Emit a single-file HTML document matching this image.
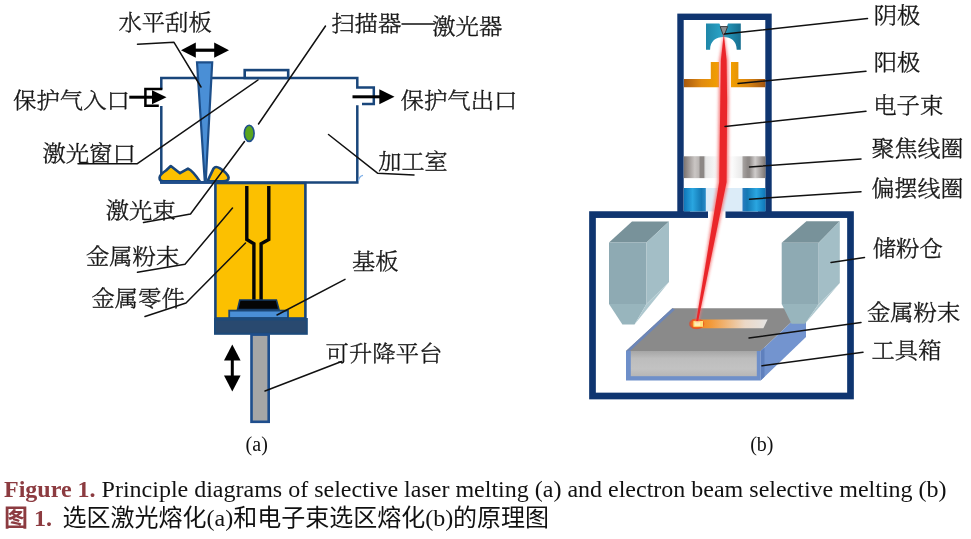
<!DOCTYPE html>
<html lang="zh">
<head>
<meta charset="utf-8">
<title>Figure 1</title>
<style>
html,body{margin:0;padding:0;background:#fff;}
body{width:971px;height:539px;overflow:hidden;position:relative;-webkit-font-smoothing:antialiased;}
#wrap{position:absolute;left:0;top:0;width:971px;height:539px;will-change:transform;transform:translateZ(0);}
svg{display:block;position:absolute;left:0;top:0;}
.lb{font-family:"Liberation Serif","Noto Serif CJK SC",serif;font-size:21.8px;fill:#161616;font-weight:300;stroke:#161616;stroke-width:0.35px;}
.ab{font-family:"Liberation Serif",serif;font-size:20px;fill:#111;}
.ld{stroke:#111;stroke-width:1.5;fill:none;stroke-linecap:round;stroke-linejoin:round;}
.cap{position:absolute;left:4px;margin:0;white-space:nowrap;color:#111;font-family:"Liberation Serif","Noto Sans CJK SC",serif;font-size:24px;line-height:28px;}
.cap b{color:#8c3b40;font-weight:bold;}
</style>
</head>
<body>
<div id="wrap">
<svg width="971" height="539" viewBox="0 0 971 539">
<defs>
<linearGradient id="gCath" x1="0" y1="0" x2="1" y2="0">
<stop offset="0" stop-color="#1f86a8"/><stop offset="0.45" stop-color="#2aa3c6"/><stop offset="1" stop-color="#176f90"/>
</linearGradient>
<linearGradient id="gAnL" x1="0" y1="0" x2="1" y2="0">
<stop offset="0" stop-color="#a85a10"/><stop offset="0.5" stop-color="#e08a10"/><stop offset="1" stop-color="#f2a000"/>
</linearGradient>
<linearGradient id="gAnR" x1="0" y1="0" x2="1" y2="0">
<stop offset="0" stop-color="#f2a000"/><stop offset="0.5" stop-color="#d98410"/><stop offset="1" stop-color="#a05510"/>
</linearGradient>
<linearGradient id="gFocL" x1="0" y1="0" x2="1" y2="0">
<stop offset="0" stop-color="#7b7370"/><stop offset="0.5" stop-color="#cac6c4"/><stop offset="0.68" stop-color="#bab6b4"/><stop offset="0.75" stop-color="#8c8785"/><stop offset="0.9" stop-color="#8c8785"/><stop offset="0.96" stop-color="#cfcfcf"/><stop offset="1" stop-color="#e6e6e6"/>
</linearGradient>
<linearGradient id="gFocR" x1="1" y1="0" x2="0" y2="0">
<stop offset="0" stop-color="#7a7472"/><stop offset="0.45" stop-color="#cfcccb"/><stop offset="0.7" stop-color="#8f8a88"/><stop offset="0.78" stop-color="#8f8a88"/><stop offset="1" stop-color="#a9a5a3"/>
</linearGradient>
<linearGradient id="gDefL" x1="0" y1="0" x2="1" y2="0">
<stop offset="0" stop-color="#0e76b8"/><stop offset="0.4" stop-color="#2aa6e0"/><stop offset="0.8" stop-color="#1478b4"/><stop offset="1" stop-color="#2a8cc8"/>
</linearGradient>
<linearGradient id="gDefR" x1="1" y1="0" x2="0" y2="0">
<stop offset="0" stop-color="#0e76b8"/><stop offset="0.4" stop-color="#2aa6e0"/><stop offset="0.8" stop-color="#1478b4"/><stop offset="1" stop-color="#2a7cc0"/>
</linearGradient>
<linearGradient id="gTrack" x1="0" y1="0" x2="1" y2="0">
<stop offset="0" stop-color="#f07a10"/><stop offset="0.25" stop-color="#f29a3a"/><stop offset="0.7" stop-color="#ecd8c6"/><stop offset="1" stop-color="#e4e4e4"/>
</linearGradient>
<radialGradient id="gSpot" cx="0.5" cy="0.5" r="0.5">
<stop offset="0" stop-color="#ffb040"/><stop offset="0.55" stop-color="#f4701c"/><stop offset="0.8" stop-color="#ea4a20" stop-opacity="0.8"/><stop offset="1" stop-color="#e03020" stop-opacity="0"/>
</radialGradient>
<filter id="blur1" x="-50%" y="-5%" width="200%" height="110%"><feGaussianBlur stdDeviation="1.6"/></filter>
<filter id="blur2" x="-50%" y="-5%" width="200%" height="110%"><feGaussianBlur stdDeviation="0.5"/></filter>
<linearGradient id="gMid" x1="0" y1="0" x2="1" y2="0"><stop offset="0.2" stop-color="#e4e4e4"/><stop offset="0.42" stop-color="#fbfbfb"/><stop offset="0.62" stop-color="#fbfbfb"/><stop offset="0.8" stop-color="#e4e4e4"/></linearGradient>
<linearGradient id="gFront" x1="0" y1="0" x2="0" y2="1"><stop offset="0" stop-color="#a6a6a6"/><stop offset="0.3" stop-color="#bdbdbd"/><stop offset="0.7" stop-color="#c2c2c2"/><stop offset="1" stop-color="#b6b6b6"/></linearGradient>
</defs>
<rect x="0" y="0" width="971" height="539" fill="#ffffff"/>

<!-- ================= (a) SLM ================= -->
<g id="slm">
<!-- chamber outline -->
<path d="M357.3 105.2 V182.6 H161.3 V106 M161.3 89.4 V78 H357.3 V87.4 H373.8 V103.9 H362" fill="#fff" stroke="#19467b" stroke-width="2.5" stroke-linejoin="miter"/>
<!-- laser window -->
<rect x="244.7" y="70.1" width="43.5" height="7.9" fill="#fff" stroke="#19467b" stroke-width="2.6"/>
<!-- powder cylinder -->
<rect x="215.4" y="183" width="90" height="135.5" fill="#fcc000" stroke="#18457a" stroke-width="2.6"/>
<!-- powder piles -->
<path d="M159.6 177.5 C159.6 175 163 172.5 166 170.5 L170.8 166 L180 173.2 L188 168.6 C192 170.5 195 174 199.8 181.4 L163 181.4 C160.5 181.2 159.6 180 159.6 178 Z" fill="#fcc000" stroke="#18457a" stroke-width="2.6" stroke-linejoin="round"/>
<path d="M207.4 181.4 L213.6 168.4 C215 166.4 217.5 166.8 220 168.4 C224 171 228 174.5 228.6 177.5 C228.8 180.2 226.5 181.4 223 181.4 Z" fill="#fcc000" stroke="#18457a" stroke-width="2.6" stroke-linejoin="round"/>
<rect x="160.3" y="181" width="55" height="2.8" fill="#1f4e8c"/>
<!-- blade -->
<path d="M197 62.4 H212.2 L205.8 180.5 H204.7 Z" fill="#4a8fd6" stroke="#1d4f8a" stroke-width="2.2" stroke-linejoin="miter"/>
<!-- part -->
<path d="M246.8 186 V239.5 L253.9 243.8 V300.5 M268.8 186 V239.5 L261.1 243.8 V300.5" fill="none" stroke="#050505" stroke-width="3.4" stroke-linejoin="miter"/>
<!-- trapezoid -->
<path d="M239.8 300 H276.4 L279 309.6 H237.5 Z" fill="#050505" stroke="#153a63" stroke-width="1.6" stroke-linejoin="miter"/>
<!-- substrate -->
<rect x="229.2" y="310.6" width="58.8" height="7.4" fill="#4a8fd6" stroke="#1b4675" stroke-width="1.8"/>
<!-- platform base -->
<rect x="214" y="318" width="93.8" height="16.8" fill="#1c4a7a"/><rect x="216" y="320.5" width="89.8" height="12.3" fill="#29496f"/>
<!-- rod -->
<rect x="251.5" y="334.6" width="17.2" height="87.2" fill="#a6a6a6" stroke="#1f4e8c" stroke-width="2.6"/>
<!-- green scanner ellipse -->
<ellipse cx="249.2" cy="133.3" rx="4.9" ry="8.1" fill="#5aa51e" stroke="#1f4e8c" stroke-width="1.6"/>

<!-- arrows -->
<g fill="#000" stroke="none">
<rect x="190" y="48.6" width="29" height="3.2"/>
<path d="M181 50.2 L195.8 42.6 V57.8 Z"/>
<path d="M229 50.2 L214.2 42.6 V57.8 Z"/>
<rect x="129.3" y="95.7" width="24" height="3"/>
<path d="M166.5 97.2 L152 90.2 V104.2 Z"/>
<rect x="352.5" y="95.3" width="30" height="3"/>
<path d="M394.5 96.8 L379.3 89.3 V104.3 Z"/>
<rect x="230.8" y="356" width="3" height="24"/>
<path d="M232.3 344.5 L224 360.5 H240.6 Z"/>
<path d="M232.3 391.5 L224 375.5 H240.6 Z"/>
</g>
<path d="M162.3 88.9 H145.4 V105.8 H158.8" fill="none" stroke="#000" stroke-width="2.5" stroke-linejoin="miter"/>

<!-- leaders -->
<path class="ld" d="M137.5 44.3 L174 42.3 L201 87"/>
<path class="ld" d="M78 163.8 H137 L258 80"/>
<path class="ld" d="M325.5 26 L258.5 124"/>
<path class="ld" d="M244.5 141.5 L190.5 214 L143.5 222.5"/>
<path class="ld" d="M402 24 H434.5"/>
<path class="ld" d="M328.5 134.5 L377.5 173.2 L414 175"/>
<path class="ld" d="M137.5 272.3 L185 264.3 L232.5 208"/>
<path class="ld" d="M145 316.5 L186 303 L245.5 243"/>
<path class="ld" d="M345 279.3 L277 315"/>
<path class="ld" d="M341.5 361.5 L265 391"/>
<path d="M358.5 181 C358.8 177.5 360.5 175.8 363 175.3" fill="none" stroke="#7fb0e8" stroke-width="1.2"/>

<!-- labels -->
<text class="lb" x="118.4" y="30" textLength="93.4" lengthAdjust="spacingAndGlyphs">水平刮板</text>
<text class="lb" x="331.18" y="31" textLength="70.1" lengthAdjust="spacingAndGlyphs">扫描器</text>
<text class="lb" x="432.18" y="34.2" textLength="70.1" lengthAdjust="spacingAndGlyphs">激光器</text>
<text class="lb" x="13.12" y="107.5" textLength="116.8" lengthAdjust="spacingAndGlyphs">保护气入口</text>
<text class="lb" x="400.62" y="107.5" textLength="116.8" lengthAdjust="spacingAndGlyphs">保护气出口</text>
<text class="lb" x="42.4" y="161" textLength="93.4" lengthAdjust="spacingAndGlyphs">激光窗口</text>
<text class="lb" x="378.2" y="168.5" textLength="69.6" lengthAdjust="spacingAndGlyphs">加工室</text>
<text class="lb" x="105.67" y="218" textLength="70.1" lengthAdjust="spacingAndGlyphs">激光束</text>
<text class="lb" x="85.9" y="263.5" textLength="93.4" lengthAdjust="spacingAndGlyphs">金属粉末</text>
<text class="lb" x="91.4" y="305.5" textLength="93.4" lengthAdjust="spacingAndGlyphs">金属零件</text>
<text class="lb" x="351.95" y="268.5" textLength="46.7" lengthAdjust="spacingAndGlyphs">基板</text>
<text class="lb" x="325.62" y="360.7" textLength="116.8" lengthAdjust="spacingAndGlyphs">可升降平台</text>
<text class="ab" x="245.6" y="450.5">(a)</text>
</g>

<!-- ================= (b) EBM ================= -->
<g id="ebm">
<!-- tower -->
<rect x="680.5" y="16.8" width="88" height="198" fill="#fff" stroke="#0f3570" stroke-width="6.4"/>
<!-- chamber -->
<rect x="592.5" y="214.6" width="258" height="181.4" fill="#fff" stroke="#0f3570" stroke-width="6.7"/>
<!-- opening -->
<rect x="708" y="209" width="17.5" height="10" fill="#fff"/>

<!-- cathode -->
<path d="M706 23.6 H719.4 L721.3 28 H726.3 L728 23.6 H740.8 V49.8 H736.7 C736.7 41 731 37 723.4 37 C716 37 710.1 41 710.1 49.8 H706 Z" fill="url(#gCath)"/>
<path d="M720.2 26.6 H727.6 L724.6 34.6 H723 Z" fill="#8d8f92" stroke="#3c3c3e" stroke-width="1"/>
<!-- anode -->
<path d="M684 79 H710.8 V62 H719 V87.3 H684 Z" fill="url(#gAnL)"/>
<path d="M731 62 H738.4 V79 H765.3 V87.3 H731 Z" fill="url(#gAnR)"/>
<!-- focus coils -->
<rect x="690" y="156.3" width="68" height="21.8" fill="url(#gMid)"/>
<rect x="683.8" y="156.3" width="22" height="21.8" fill="url(#gFocL)"/>
<rect x="742.5" y="156.3" width="23" height="21.8" fill="url(#gFocR)"/>
<!-- deflection coils -->
<rect x="690" y="188" width="68" height="23.4" fill="#dcecf8"/>
<rect x="683.8" y="188" width="22" height="23.4" fill="url(#gDefL)"/>
<rect x="742.5" y="188" width="23" height="23.4" fill="url(#gDefR)"/>

<!-- hoppers -->
<g id="hopL">
<path d="M609 242.4 L632 221.4 H669 L646.5 242.4 Z" fill="#78929a"/>
<path d="M609 242.4 H646.5 V304 H609 Z" fill="#8eaab3"/>
<path d="M646.5 242.4 L669 221.4 V282 L646.5 304 Z" fill="#a3bec6"/>
<path d="M609 304 H646.5 L634.5 324.5 H622.4 Z" fill="#98b5bd"/>
<path d="M646.5 304 L669 282 L634.5 324.5 Z" fill="#aec8cf"/>
</g>
<!-- tool box -->
<g id="box">
<path d="M626 351 L672.3 308.2 H806 L760.6 351 Z" fill="#8a8a8a"/>
<path d="M626 351 L672.3 308.2 L675 309.5 L630 351 Z" fill="#6c86b8"/>
<path d="M760.6 351 L806 308.2 V337 L760.6 380.5 Z" fill="#7394cf"/>
<path d="M760.6 351 L764.5 347.5 V376.8 L760.6 380.5 Z" fill="#5f80bd"/>
<rect x="626" y="351" width="134.6" height="29.5" fill="#6e8fc9"/>
<rect x="630.8" y="351" width="126" height="25.2" fill="url(#gFront)"/>
<!-- melt track -->
<path d="M692 319.6 H767.6 L763.4 328.3 H692 Z" fill="url(#gTrack)"/>
<ellipse cx="696.6" cy="323.9" rx="8.2" ry="5.8" fill="url(#gSpot)"/>
<rect x="693.4" y="321" width="9.6" height="5.8" fill="#ffe27a"/>
<rect x="694.6" y="322" width="5.6" height="3.8" fill="#fff3b8"/>
</g>
<g id="hopR">
<path d="M781.7 242.7 L806.4 221.2 H839.8 L818.7 242.7 Z" fill="#78929a"/>
<path d="M781.7 242.7 H818.7 V304 H781.7 Z" fill="#8eaab3"/>
<path d="M818.7 242.7 L839.8 221.2 V283 L818.7 304 Z" fill="#a3bec6"/>
<path d="M781.7 304 H818.7 L805 323.8 H791.5 Z" fill="#98b5bd"/>
<path d="M818.7 304 L839.8 283 L805 323.8 Z" fill="#aec8cf"/>
</g>

<!-- beam -->
<g>
<path d="M723.8 33 L719.2 60 L718.6 100 L717.4 182 L695.8 322 L698.6 322 L728.3 182 L729 100 L728.2 60 Z" fill="#f57878" opacity="0.9" filter="url(#blur1)"/>
<path d="M723.8 33.5 L720.9 60 L720.3 100 L719.2 182 L696.2 321 L698.2 321 L726.6 182 L727.1 100 L726.6 60 Z" fill="#ea262c" filter="url(#blur2)"/>
</g>

<!-- leaders -->
<path class="ld" d="M867.5 18.6 L724.5 34"/>
<path class="ld" d="M866 71.2 L738 83.5"/>
<path class="ld" d="M866 111.3 L725 126.5"/>
<path class="ld" d="M861 159 L749.5 167"/>
<path class="ld" d="M861 191.7 L749.5 199.2"/>
<path class="ld" d="M864.5 257.5 L831 262.5"/>
<path class="ld" d="M861 322.5 L749 338"/>
<path class="ld" d="M863 352.2 L762 365.8"/>

<!-- labels -->
<text class="lb" x="873.75" y="22.5" textLength="46.7" lengthAdjust="spacingAndGlyphs">阴极</text>
<text class="lb" x="873.75" y="69.7" textLength="46.7" lengthAdjust="spacingAndGlyphs">阳极</text>
<text class="lb" x="873.17" y="112.7" textLength="70.1" lengthAdjust="spacingAndGlyphs">电子束</text>
<text class="lb" x="871.6" y="156.2" textLength="91.8" lengthAdjust="spacingAndGlyphs">聚焦线圈</text>
<text class="lb" x="871.6" y="196.2" textLength="91.8" lengthAdjust="spacingAndGlyphs">偏摆线圈</text>
<text class="lb" x="872.67" y="255.5" textLength="70.1" lengthAdjust="spacingAndGlyphs">储粉仓</text>
<text class="lb" x="866.9" y="319.5" textLength="93.4" lengthAdjust="spacingAndGlyphs">金属粉末</text>
<text class="lb" x="871.47" y="357.7" textLength="70.1" lengthAdjust="spacingAndGlyphs">工具箱</text>
<text class="ab" x="750.2" y="450.5">(b)</text>
</g>
</svg>
<p class="cap" style="top:474.7px;"><b>Figure 1.</b> Principle diagrams of selective laser melting (a) and electron beam selective melting (b)</p>
<p class="cap" style="top:504px;"><b>图 1.</b><span style="display:inline-block;width:10.5px"></span>选区激光熔化(a)和电子束选区熔化(b)的原理图</p>
</div>
</body>
</html>
